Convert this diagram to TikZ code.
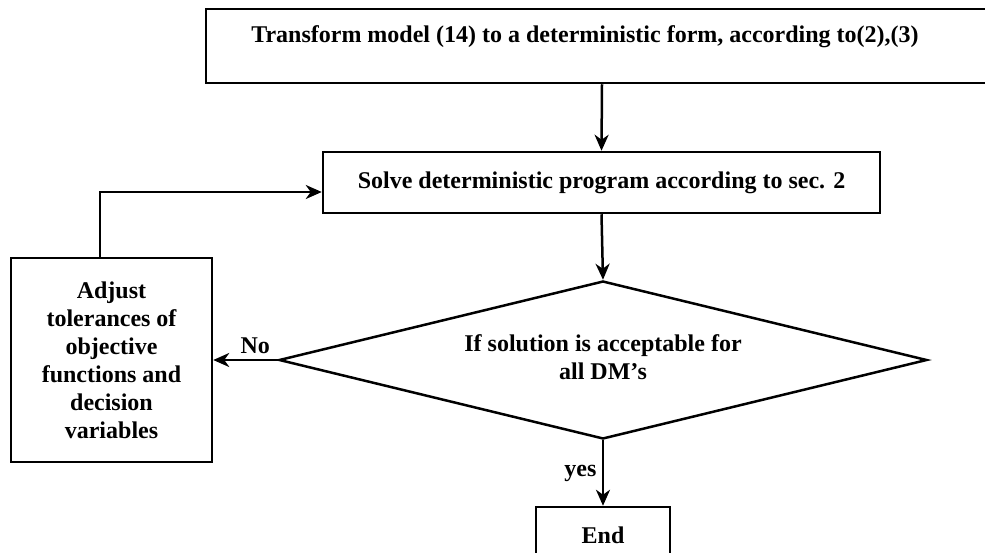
\documentclass[tikz,border=0pt]{standalone}
\usepackage{fontspec}
\setmainfont{Liberation Serif}
\usetikzlibrary{arrows.meta,shapes.geometric}
\begin{document}
\begin{tikzpicture}[x=1pt,y=-1pt,line width=2.5pt,
  every node/.append style={font=\fontsize{24}{28}\selectfont\bfseries},
  box/.style={draw,rectangle,inner sep=0pt},
  arr/.style={-{Stealth[length=16pt,width=14pt,inset=5pt]}}]
  \clip(0,0)rectangle(985,552);
  \node[box,minimum width=792,minimum height=74](trans)at(602,46){};
  \node(transtxt)at(585,37){Transform model (14) to a deterministic form, according to(2),(3)};
  \node[box,minimum width=557,minimum height=61](solve)at(601.5,182.5){Solve deterministic program according to sec. 2};
  \node[draw,diamond,aspect=4.1,inner sep=0pt,minimum width=648,minimum height=158](accept)at(603,360){};
  \node[align=center](accepttxt)at(603,357){If solution is acceptable for\\all DM's};
  \node[box,minimum width=201,minimum height=204,align=center](adjust)at(111.5,360){Adjust\\tolerances of\\objective\\functions and\\decision\\variables};
  \node[box,minimum width=134,minimum height=56](end)at(603,535){End};
  \coordinate(corner)at(100,192);
  \draw[arr](trans.south)--(solve.north);
  \draw[arr](solve.south)--(accept.north);
  \draw[arr](accept.west)--node[pos=0.35,above,yshift=2pt]{No}(adjust.east);
  \draw[arr](accept.south)--node[left,xshift=-2pt]{yes}(end.north);
  \draw[arr](adjust.north-|corner)--(corner)--(corner-|solve.west);
\end{tikzpicture}
\end{document}
